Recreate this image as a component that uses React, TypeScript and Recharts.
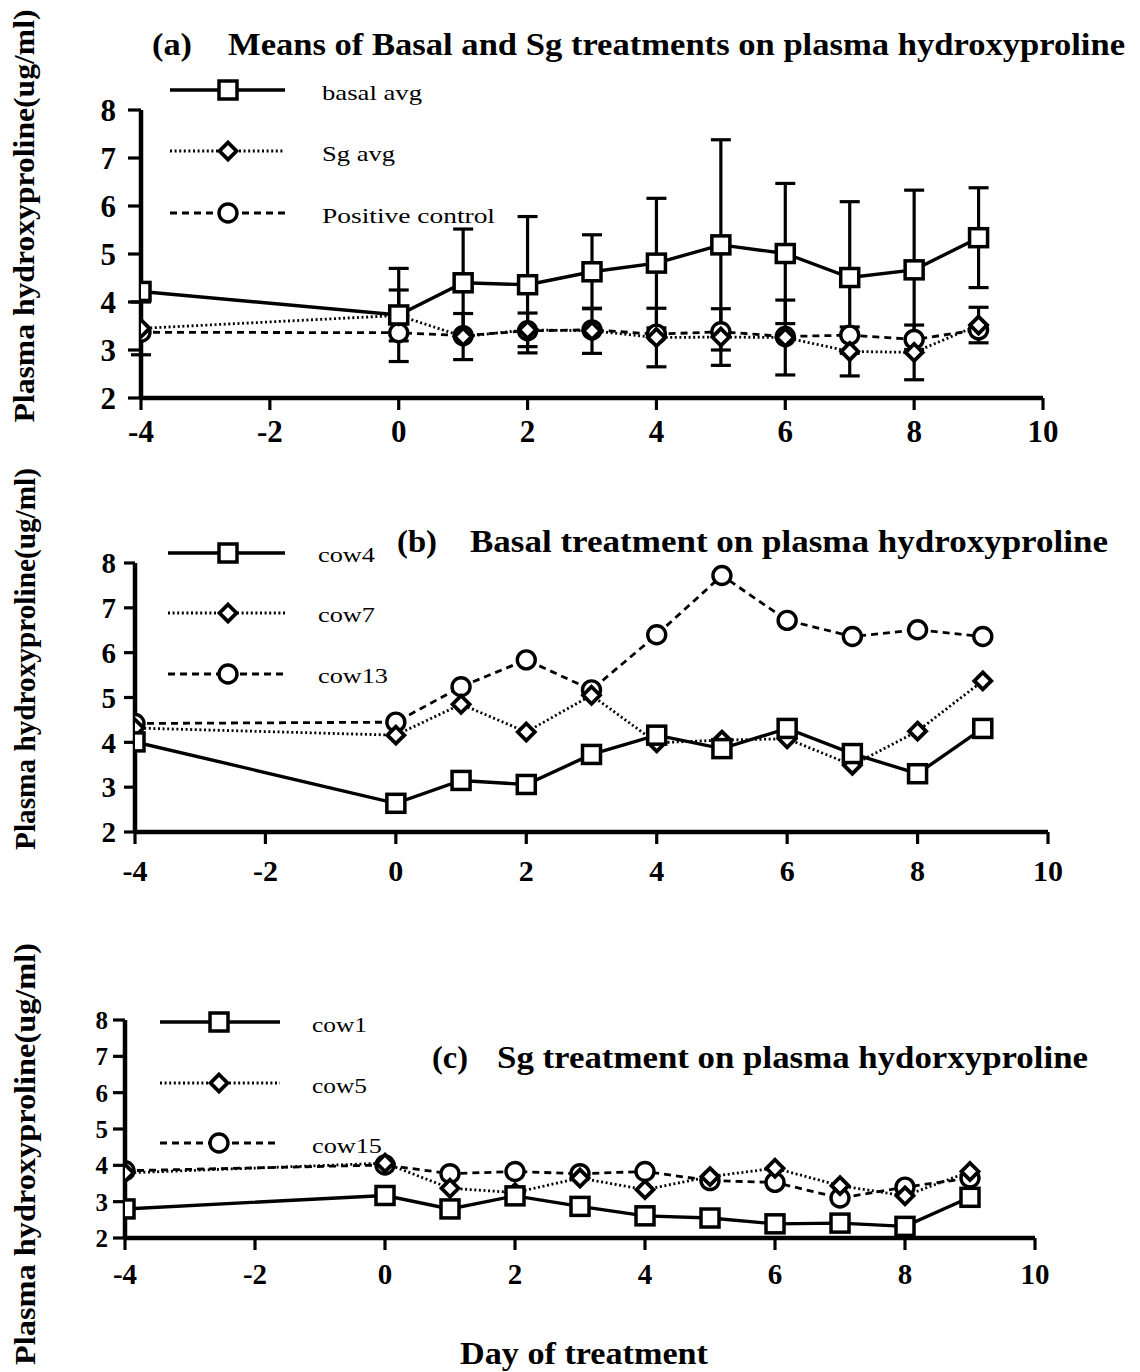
import React from 'react';
import { LineChart, Line, XAxis, YAxis, ErrorBar } from 'recharts';

const FONT = '"Liberation Serif", "Times New Roman", Times, serif';

// ---------- data ----------
const days = [-4, 0, 1, 2, 3, 4, 5, 6, 7, 8, 9];
const xTicks = [-4, -2, 0, 2, 4, 6, 8, 10];
const yTicks = [2, 3, 4, 5, 6, 7, 8];

// (a) means
const basalAvg = [4.22, 3.73, 4.4, 4.36, 4.63, 4.81, 5.19, 5.01, 4.51, 4.67, 5.34];
const basalErr = [0, 0.97, 1.12, 1.42, 0.77, 1.35, 2.19, 1.46, 1.58, 1.66, 1.04];
const sgAvg = [3.45, 3.72, 3.28, 3.42, 3.4, 3.26, 3.27, 3.26, 2.97, 2.95, 3.52];
const sgErr = [0.55, 0.53, 0.48, 0.35, 0.47, 0.61, 0.59, 0.78, 0.51, 0.57, 0.37];
const posControl = [3.37, 3.36, 3.3, 3.4, 3.42, 3.33, 3.38, 3.28, 3.31, 3.22, 3.42];

// (b) basal cows
const cow4 = [4.01, 2.64, 3.15, 3.06, 3.73, 4.16, 3.86, 4.31, 3.75, 3.3, 4.31];
const cow7 = [4.32, 4.16, 4.85, 4.23, 5.05, 3.99, 4.05, 4.08, 3.49, 4.25, 5.37];
const cow13 = [4.42, 4.45, 5.24, 5.84, 5.17, 6.4, 7.72, 6.72, 6.36, 6.51, 6.36];

// (c) Sg cows
const cow1 = [2.8, 3.17, 2.8, 3.16, 2.87, 2.61, 2.55, 2.39, 2.41, 2.32, 3.12];
const cow5 = [3.79, 4.06, 3.37, 3.25, 3.65, 3.33, 3.69, 3.92, 3.44, 3.16, 3.83];
const cow15 = [3.85, 4.01, 3.77, 3.83, 3.77, 3.83, 3.58, 3.53, 3.1, 3.4, 3.65];

const dataA = days.map((d, i) => ({
  day: d,
  basal: basalAvg[i],
  basalErr: basalErr[i],
  sg: sgAvg[i],
  sgErr: sgErr[i],
  pos: posControl[i],
}));
const dataB = days.map((d, i) => ({ day: d, cow4: cow4[i], cow7: cow7[i], cow13: cow13[i] }));
const dataC = days.map((d, i) => ({ day: d, cow1: cow1[i], cow5: cow5[i], cow15: cow15[i] }));

// ---------- styles ----------
const SOLID = { strokeWidth: 3.4 };
const DOTTED = { strokeWidth: 2.8, strokeDasharray: '2 2.6' };
const DASHED = { strokeWidth: 2.8, strokeDasharray: '7 5' };

function squareShape(cx: number, cy: number, key?: string) {
  return <rect key={key} x={cx - 9} y={cy - 9} width={18} height={18} fill="#fff" stroke="#000" strokeWidth={3.5} />;
}
function diamondShape(cx: number, cy: number, key?: string) {
  return (
    <polygon
      key={key}
      points={`${cx},${cy - 8.5} ${cx + 8.5},${cy} ${cx},${cy + 8.5} ${cx - 8.5},${cy}`}
      fill="#fff"
      stroke="#000"
      strokeWidth={3.8}
    />
  );
}
function circleShape(cx: number, cy: number, key?: string) {
  return <circle key={key} cx={cx} cy={cy} r={9} fill="#fff" stroke="#000" strokeWidth={3.4} />;
}

const makeDot = (fn: any, tag: string) => (p: any) => {
  if (p == null || p.cx == null || p.cy == null) return <g key={`${tag}-n-${p?.index}`} />;
  return fn(p.cx, p.cy, `${tag}-${p.index}`);
};

type Plot = { l: number; t: number; r: number; b: number };

const YW = 60;
const XH = 50;

function marginFor(top: number, height: number, p: Plot) {
  return {
    top: p.t - top,
    right: 1140 - p.r,
    left: p.l - YW,
    bottom: top + height - p.b - XH,
  };
}

const axisLine = { stroke: '#000', strokeWidth: 4.5 };
const tickLine = { stroke: '#000', strokeWidth: 3.2 };

function renderXAxis(tickMargin: number, fontSize: number) {
  return (
    <XAxis
      dataKey="day"
      type="number"
      domain={[-4, 10]}
      ticks={xTicks}
      allowDataOverflow
      height={XH}
      axisLine={axisLine}
      tickLine={tickLine}
      tickSize={12}
      tickMargin={tickMargin}
      interval={0}
      tick={{ fill: '#000', fontSize, fontWeight: 'bold', fontFamily: FONT }}
    />
  );
}
function renderYAxis(tickSize: number, tickMargin: number, fontSize: number) {
  return (
    <YAxis
      type="number"
      domain={[2, 8]}
      ticks={yTicks}
      allowDataOverflow
      width={YW}
      axisLine={axisLine}
      tickLine={tickLine}
      tickSize={tickSize}
      tickMargin={tickMargin}
      interval={0}
      tick={{ fill: '#000', fontSize, fontWeight: 'bold', fontFamily: FONT }}
    />
  );
}

// ---------- overlay texts & legends ----------
function LegendRow({ x1, x2, y, mx, kind, label, tx, ty, tw }: any) {
  const st = kind === 'square' ? SOLID : kind === 'diamond' ? DOTTED : DASHED;
  const marker = kind === 'square' ? squareShape(mx, y) : kind === 'diamond' ? diamondShape(mx, y) : circleShape(mx, y);
  return (
    <g>
      <line x1={x1} x2={x2} y1={y} y2={y} stroke="#000" {...st} />
      {marker}
      <text x={tx} y={ty} fontFamily={FONT} fontSize={21} fill="#000" textLength={tw} lengthAdjust="spacingAndGlyphs">
        {label}
      </text>
    </g>
  );
}

function Title({ tagX, tagW, tag, x, w, y, text }: any) {
  return (
    <g>
      <text x={tagX} y={y} fontFamily={FONT} fontWeight="bold" fontSize={31} fill="#000" textLength={tagW} lengthAdjust="spacingAndGlyphs">
        {tag}
      </text>
      <text x={x} y={y} fontFamily={FONT} fontWeight="bold" fontSize={31} fill="#000" textLength={w} lengthAdjust="spacingAndGlyphs">
        {text}
      </text>
    </g>
  );
}

function YLabel({ x, cy, len }: any) {
  return (
    <text
      x={0}
      y={0}
      transform={`translate(${x},${cy}) rotate(-90)`}
      textAnchor="middle"
      fontFamily={FONT}
      fontWeight="bold"
      fontSize={30}
      fill="#000"
      textLength={len}
      lengthAdjust="spacingAndGlyphs"
    >
      Plasma hydroxyproline(ug/ml)
    </text>
  );
}

export default function App() {
  const aTop = 0, aH = 470;
  const bTop = 470, bH = 420;
  const cTop = 890, cH = 482;
  const pA: Plot = { l: 141, t: 110, r: 1043, b: 398 };
  const pB: Plot = { l: 135, t: 563, r: 1048, b: 832 };
  const pC: Plot = { l: 125, t: 1020, r: 1035, b: 1238 };

  return (
    <div style={{ position: 'absolute', left: 0, top: 0, width: 1140, height: 1372, background: '#fff', overflow: 'hidden' }}>
      {/* Panel (a) */}
      <div style={{ position: 'absolute', left: 0, top: aTop }}>
        <LineChart width={1140} height={aH} data={dataA} margin={marginFor(aTop, aH, pA)}>
          {renderXAxis(10, 31)}
          {renderYAxis(13, 12, 31)}
          <Line dataKey="pos" stroke="#000" {...DASHED} dot={makeDot(circleShape, 'pc')} isAnimationActive={false} />
          <Line dataKey="sg" stroke="#000" {...DOTTED} dot={makeDot(diamondShape, 'sg')} isAnimationActive={false}>
            <ErrorBar dataKey="sgErr" width={10} strokeWidth={3.2} stroke="#000" direction="y" isAnimationActive={false} />
          </Line>
          <Line dataKey="basal" stroke="#000" {...SOLID} dot={makeDot(squareShape, 'ba')} isAnimationActive={false}>
            <ErrorBar dataKey="basalErr" width={10} strokeWidth={3.2} stroke="#000" direction="y" isAnimationActive={false} />
          </Line>
        </LineChart>
      </div>

      {/* Panel (b) */}
      <div style={{ position: 'absolute', left: 0, top: bTop }}>
        <LineChart width={1140} height={bH} data={dataB} margin={marginFor(bTop, bH, pB)}>
          {renderXAxis(16, 30)}
          {renderYAxis(11, 8, 29)}
          <Line dataKey="cow13" stroke="#000" {...DASHED} dot={makeDot(circleShape, 'c13')} isAnimationActive={false} />
          <Line dataKey="cow7" stroke="#000" {...DOTTED} dot={makeDot(diamondShape, 'c7')} isAnimationActive={false} />
          <Line dataKey="cow4" stroke="#000" {...SOLID} dot={makeDot(squareShape, 'c4')} isAnimationActive={false} />
        </LineChart>
      </div>

      {/* Panel (c) */}
      <div style={{ position: 'absolute', left: 0, top: cTop }}>
        <LineChart width={1140} height={cH} data={dataC} margin={marginFor(cTop, cH, pC)}>
          {renderXAxis(13, 29)}
          {renderYAxis(12, 5, 25)}
          <Line dataKey="cow15" stroke="#000" {...DASHED} dot={makeDot(circleShape, 'c15')} isAnimationActive={false} />
          <Line dataKey="cow5" stroke="#000" {...DOTTED} dot={makeDot(diamondShape, 'c5')} isAnimationActive={false} />
          <Line dataKey="cow1" stroke="#000" {...SOLID} dot={makeDot(squareShape, 'c1')} isAnimationActive={false} />
        </LineChart>
      </div>

      {/* Overlay: titles, legends, axis labels */}
      <svg width={1140} height={1372} style={{ position: 'absolute', left: 0, top: 0, pointerEvents: 'none' }}>
        <Title tag="(a)" tagX={152} tagW={40} x={228} w={897} y={55} text="Means of Basal and Sg treatments on plasma hydroxyproline" />
        <Title tag="(b)" tagX={397} tagW={40} x={470} w={638} y={552} text="Basal treatment on plasma hydroxyproline" />
        <Title tag="(c)" tagX={432} tagW={36} x={497} w={591} y={1068} text="Sg treatment on plasma hydorxyproline" />

        <LegendRow kind="square" x1={170} x2={285} y={90} mx={228} tx={322} ty={100} tw={100} label="basal avg" />
        <LegendRow kind="diamond" x1={170} x2={285} y={151} mx={228} tx={322} ty={161} tw={73} label="Sg avg" />
        <LegendRow kind="circle" x1={170} x2={285} y={213} mx={228} tx={322} ty={223} tw={173} label="Positive control" />

        <LegendRow kind="square" x1={168} x2={285} y={553} mx={228} tx={318} ty={562} tw={57} label="cow4" />
        <LegendRow kind="diamond" x1={168} x2={285} y={613} mx={228} tx={318} ty={622} tw={57} label="cow7" />
        <LegendRow kind="circle" x1={168} x2={285} y={674} mx={228} tx={318} ty={683} tw={70} label="cow13" />

        <LegendRow kind="square" x1={160} x2={280} y={1022} mx={219} tx={312} ty={1032} tw={55} label="cow1" />
        <LegendRow kind="diamond" x1={160} x2={280} y={1083} mx={219} tx={312} ty={1093} tw={55} label="cow5" />
        <LegendRow kind="circle" x1={160} x2={280} y={1143} mx={219} tx={312} ty={1153} tw={70} label="cow15" />

        <YLabel x={34} cy={216} len={413} />
        <YLabel x={35} cy={659} len={382} />
        <YLabel x={35} cy={1154} len={422} />

        <text x={460} y={1364} fontFamily={FONT} fontWeight="bold" fontSize={32} fill="#000" textLength={248} lengthAdjust="spacingAndGlyphs">
          Day of treatment
        </text>
      </svg>
    </div>
  );
}
